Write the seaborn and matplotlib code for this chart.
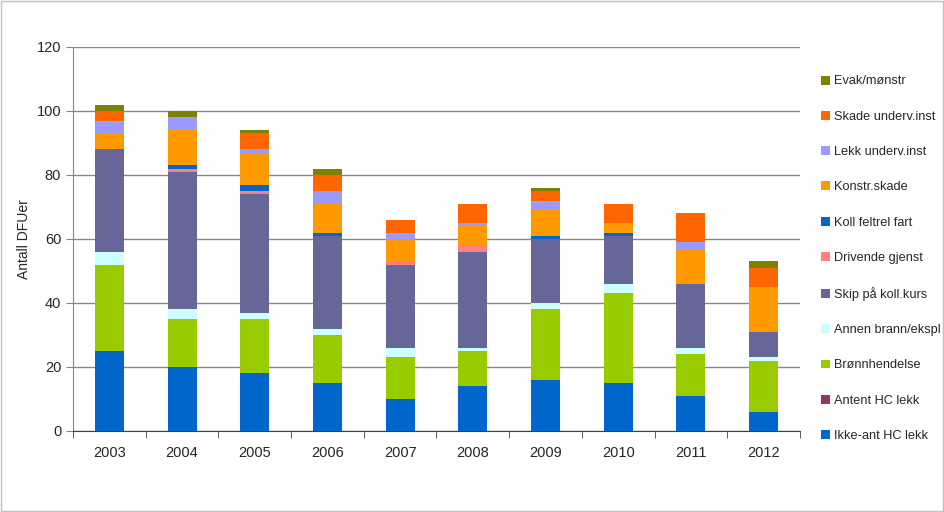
import numpy as np
import pandas as pd
import seaborn as sns
import matplotlib.pyplot as plt
from matplotlib.patches import Patch, Rectangle

years = ['2003', '2004', '2005', '2006', '2007', '2008', '2009', '2010', '2011', '2012']

# categories, bottom of the stack first
categories = ['Ikke-ant HC lekk', 'Antent HC lekk', 'Brønnhendelse', 'Annen brann/ekspl',
              'Skip på koll.kurs', 'Drivende gjenst', 'Koll feltrel fart', 'Konstr.skade',
              'Lekk underv.inst', 'Skade underv.inst', 'Evak/mønstr']

ikke_ant = [25, 20, 18, 15, 10, 14, 16, 15, 11, 6]
antent = [0, 0, 0, 0, 0, 0, 0, 0, 0, 0]
bronn = [27, 15, 17, 15, 13, 11, 22, 28, 13, 16]
annen_brann = [4, 3, 2, 2, 3, 1, 2, 3, 2, 1]
skip_koll = [32, 43, 37, 29, 26, 30, 20, 15, 20, 8]
drivende = [0, 1, 1, 0, 1, 2, 0, 0, 0, 0]
koll_feltrel = [0, 1, 2, 1, 0, 0, 1, 1, 0, 0]
konstr = [5, 11, 10, 9, 7, 6, 8, 3, 11, 14]
lekk_underv = [4, 4, 1, 4, 2, 1, 3, 0, 2, 0]
skade_underv = [3, 0, 5, 5, 4, 6, 3, 6, 9, 6]
evak = [2, 2, 1, 2, 0, 0, 1, 0, 0, 2]

series = [ikke_ant, antent, bronn, annen_brann, skip_koll, drivende,
          koll_feltrel, konstr, lekk_underv, skade_underv, evak]

colors = ['#0066CC', '#993366', '#99CC00', '#CCFFFF', '#666699', '#FF8080',
          '#0066CC', '#FF9900', '#9999FF', '#FF6600', '#7F7F00']

sns.set_style('white')
plt.rcParams['font.family'] = ['Liberation Sans', 'DejaVu Sans']

fig = plt.figure(figsize=(9.45, 5.12), dpi=100)
ax = fig.add_axes([73 / 945, 81 / 512, 727 / 945, 384 / 512])

bottom = np.zeros(len(years))
for name, vals, col in zip(categories, series, colors):
    sns.barplot(x=years, y=vals, bottom=bottom, color=col, width=0.4,
                ax=ax, saturation=1, linewidth=0, zorder=3)
    bottom = bottom + np.array(vals)

ax.set_ylim(0, 120)
ax.set_xlim(-0.5, 9.5)
ax.set_yticks(range(0, 121, 20))
ax.yaxis.grid(True, color='#868686', linewidth=1)
ax.set_axisbelow(True)
for s in ['top', 'right']:
    ax.spines[s].set_visible(False)
ax.spines['left'].set_color('#868686')
ax.spines['bottom'].set_color('#404040')
ax.tick_params(axis='y', length=5, direction='out', color='#868686', labelsize=10.5, left=True)
ax.tick_params(axis='x', length=0, labelsize=10.5, pad=11)
ax.set_xticks(np.arange(-0.5, 10, 1), minor=True)
ax.tick_params(axis='x', which='minor', length=5, direction='out', color='#404040', bottom=True)
ax.set_ylabel('Antall DFUer', fontsize=10, labelpad=4)
ax.set_xlabel('')

handles = [Patch(facecolor=c, edgecolor='none') for c in colors][::-1]
ax.legend(handles, categories[::-1], loc='upper left', bbox_to_anchor=(810 / 945, 448 / 512),
          bbox_transform=fig.transFigure, frameon=False, fontsize=9.2,
          handlelength=0.7, handleheight=0.7, handletextpad=0.3, labelspacing=1.82)

fig.patches.append(Rectangle((0.001, 0.002), 0.997, 0.996, transform=fig.transFigure,
                             fill=False, edgecolor='#BFBFBF', linewidth=1))

fig.savefig('out.png', dpi=100)
